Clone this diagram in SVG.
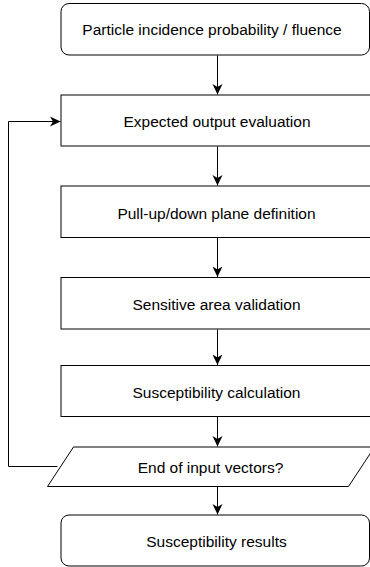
<svg xmlns="http://www.w3.org/2000/svg" width="370" height="567" viewBox="0 0 370 567">
<defs>
<style>
.n{fill:#fff;stroke:#000;stroke-width:1}
.t{font-family:"Liberation Sans",Arial,sans-serif;font-size:15.5px;fill:#000;text-anchor:middle}
.c{fill:none;stroke:#000;stroke-width:1}
</style>
<marker id="a" viewBox="0 0 11 11" refX="10.5" refY="5.5" markerWidth="11" markerHeight="11" markerUnits="userSpaceOnUse" orient="auto">
<path d="M0,0.5 L10.5,5.5 L0,10.5 L3,5.5 Z" fill="#000"/>
</marker>
</defs>
<rect width="370" height="567" fill="#fff"/>
<g id="connectors">
<path class="c" d="M217.5,55.5 V94.5" marker-end="url(#a)"/>
<path class="c" d="M217.5,146.5 V185.5" marker-end="url(#a)"/>
<path class="c" d="M217.5,237.5 V277" marker-end="url(#a)"/>
<path class="c" d="M217.5,329.5 V365" marker-end="url(#a)"/>
<path class="c" d="M217.5,416.5 V446.5" marker-end="url(#a)"/>
<path class="c" d="M217.5,486.5 V514.5" marker-end="url(#a)"/>
<path class="c" d="M57.5,466.5 H8.5 V121.5 H60.5" marker-end="url(#a)"/>
</g>
<g id="n1">
<rect class="n" x="61" y="3.5" width="308.5" height="51.5" rx="8"/>
<text class="t" x="212" y="35">Particle incidence probability / fluence</text>
</g>
<g id="n2">
<rect class="n" x="61" y="95" width="312" height="51"/>
<text class="t" x="217" y="127.3">Expected output evaluation</text>
</g>
<g id="n3">
<rect class="n" x="61" y="186" width="312" height="51.5"/>
<text class="t" x="216.5" y="218.5">Pull-up/down plane definition</text>
</g>
<g id="n4">
<rect class="n" x="61" y="277.5" width="312" height="51.5"/>
<text class="t" x="216.5" y="310">Sensitive area validation</text>
</g>
<g id="n5">
<rect class="n" x="61" y="365.5" width="312" height="51"/>
<text class="t" x="216.5" y="397.5">Susceptibility calculation</text>
</g>
<g id="n6">
<polygon class="n" points="73.5,447 374.5,447 348.5,486.5 47.5,486.5"/>
<text class="t" x="210.5" y="473">End of input vectors?</text>
</g>
<g id="n7">
<rect class="n" x="61" y="515" width="308.5" height="51" rx="8"/>
<text class="t" x="216.5" y="547">Susceptibility results</text>
</g>
</svg>
